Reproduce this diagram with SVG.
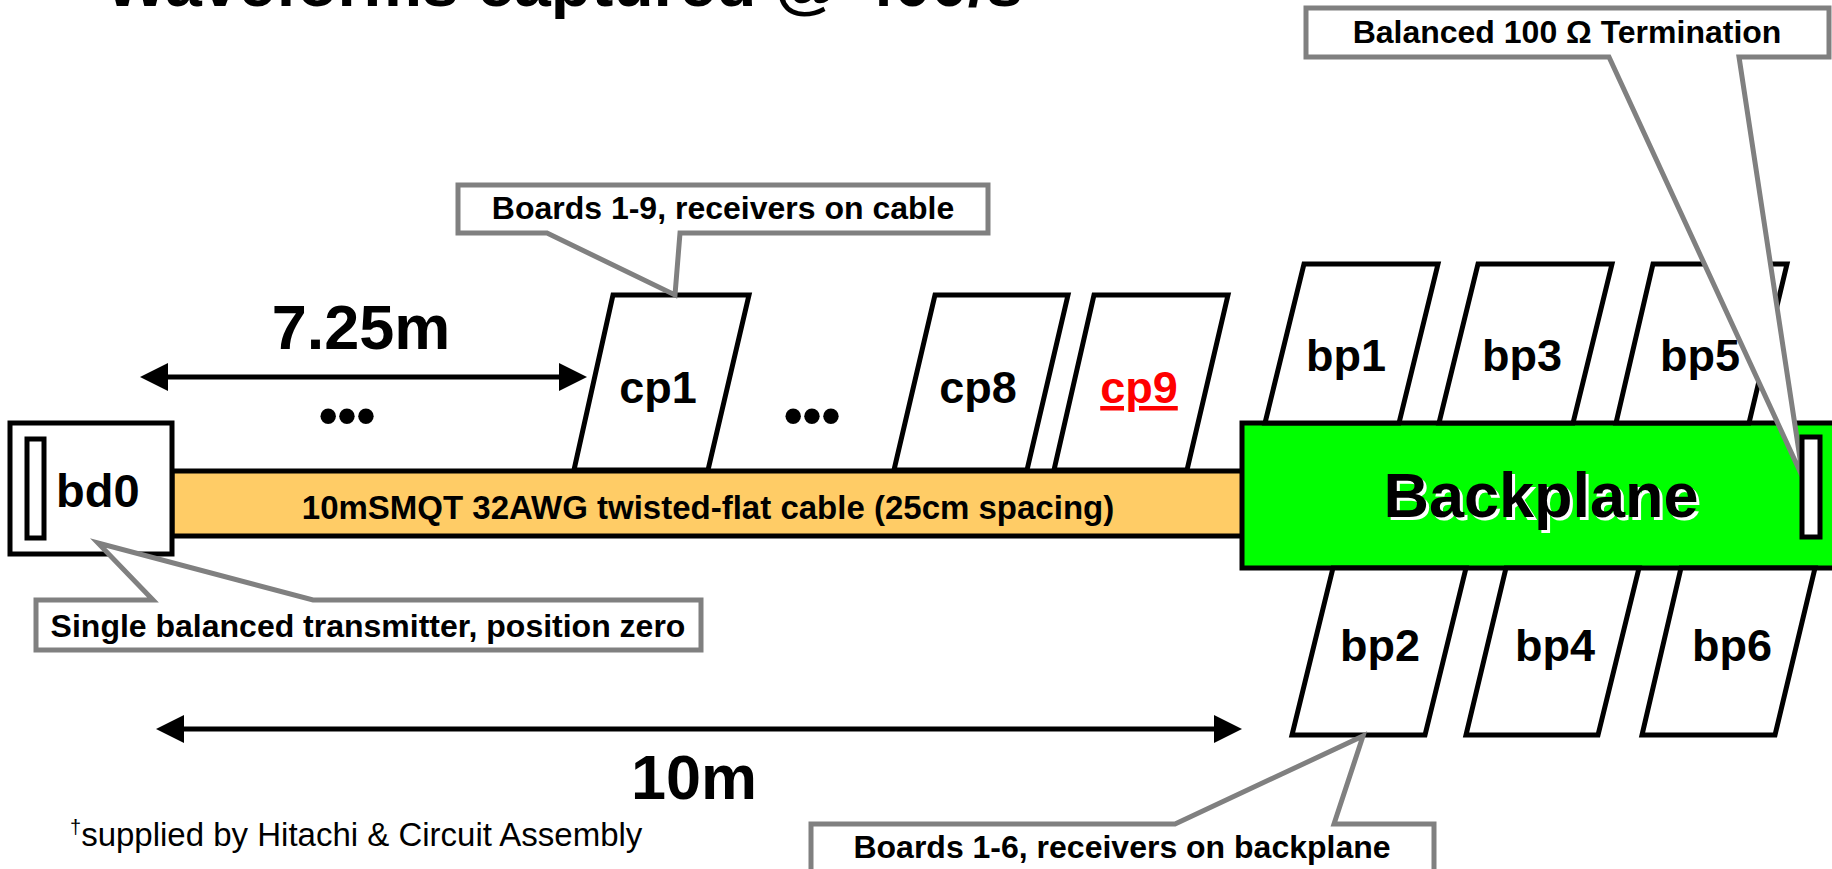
<svg xmlns="http://www.w3.org/2000/svg" width="1832" height="869" viewBox="0 0 1832 869">
<defs>
<style>
.t{font-family:"Liberation Sans",Arial,Helvetica,sans-serif;font-weight:bold;fill:#000}
.board{fill:#fff;stroke:#000;stroke-width:5;stroke-linejoin:miter}
.callout{fill:#fff;stroke:#808080;stroke-width:5;stroke-linejoin:miter}
.dim{stroke:#000;stroke-width:5;fill:none}
.lbl{font-size:45px;text-anchor:middle}
.co{font-size:32px;text-anchor:middle}
</style>
<marker id="ah" markerUnits="userSpaceOnUse" markerWidth="28" markerHeight="28" viewBox="0 0 28 28" refX="18" refY="14" orient="auto-start-reverse"><path d="M0,0 L28,14 L0,28 Z" fill="#000"/></marker>
</defs>
<rect width="1832" height="869" fill="#fff"/>
<text class="t" x="105" y="6" font-size="64" textLength="918" lengthAdjust="spacingAndGlyphs">Waveforms captured @ 400/s</text>

<g id="cable">
<rect x="172" y="471" width="1072" height="65" fill="#FFCC66" stroke="#000" stroke-width="5"/>
<text class="t" x="708" y="519" font-size="33" text-anchor="middle">10mSMQT 32AWG twisted-flat cable (25cm spacing)</text>
</g>

<g id="bd0">
<rect class="board" x="10" y="423" width="162" height="131"/>
<rect class="board" x="27" y="439" width="17" height="99"/>
<text class="t" x="56" y="507" font-size="47">bd0</text>
</g>

<g id="cp1"><polygon class="board" points="613,295 749,295 708,470 574,470"/><text class="t lbl" x="658" y="403">cp1</text></g>
<g id="cp8"><polygon class="board" points="935,295 1068,295 1027,470 894,470"/><text class="t lbl" x="978" y="403">cp8</text></g>
<g id="cp9"><polygon class="board" points="1094,295 1228,295 1187,470 1054,470"/><text class="t lbl" x="1139" y="403" style="fill:#FF0000" text-decoration="underline">cp9</text></g>

<text class="t" x="347" y="434" font-size="54" text-anchor="middle">•••</text>
<text class="t" x="812" y="434" font-size="54" text-anchor="middle">•••</text>

<g id="backplane">
<rect x="1242" y="423" width="600" height="145" fill="#00FF00" stroke="#000" stroke-width="5"/>
<text class="t" x="1544" y="520" font-size="63" text-anchor="middle" style="fill:#fff">Backplane</text>
<text class="t" x="1541" y="517" font-size="63" text-anchor="middle">Backplane</text>
</g>

<g id="bp1"><polygon class="board" points="1304,264 1438,264 1399,423 1265,423"/><text class="t lbl" x="1346" y="371">bp1</text></g>
<g id="bp3"><polygon class="board" points="1478,264 1612,264 1573,423 1439,423"/><text class="t lbl" x="1522" y="371">bp3</text></g>
<g id="bp5"><polygon class="board" points="1653,264 1787,264 1749,423 1616,423"/><text class="t lbl" x="1700" y="371">bp5</text></g>
<g id="bp2"><polygon class="board" points="1333,568 1466,568 1425,735 1292,735"/><text class="t lbl" x="1380" y="661">bp2</text></g>
<g id="bp4"><polygon class="board" points="1506,568 1639,568 1598,735 1466,735"/><text class="t lbl" x="1555" y="661">bp4</text></g>
<g id="bp6"><polygon class="board" points="1681,568 1815,568 1775,735 1642,735"/><text class="t lbl" x="1732" y="661">bp6</text></g>

<g id="connectors">
<line class="dim" x1="150" y1="377" x2="577" y2="377" marker-start="url(#ah)" marker-end="url(#ah)"/>
<line class="dim" x1="166" y1="729" x2="1232" y2="729" marker-start="url(#ah)" marker-end="url(#ah)"/>
</g>
<text class="t" x="361" y="349" font-size="63" text-anchor="middle">7.25m</text>
<text class="t" x="694" y="799" font-size="63" text-anchor="middle">10m</text>

<g id="callout-termination">
<polygon class="callout" points="1306,8 1829,8 1829,57 1739,57 1803,478 1609,57 1306,57"/>
<text class="t co" x="1567" y="43">Balanced 100 Ω Termination</text>
</g>
<g id="terminator"><rect class="board" x="1802" y="437" width="18" height="100"/></g>

<g id="callout-cable">
<polygon class="callout" points="458,185 988,185 988,233 680,233 675,295 547,233 458,233"/>
<text class="t co" x="723" y="219">Boards 1-9, receivers on cable</text>
</g>

<g id="callout-transmitter">
<polygon class="callout" points="36,600 153,600 98,543 313,600 701,600 701,650 36,650"/>
<text class="t co" x="368" y="637">Single balanced transmitter, position zero</text>
</g>

<g id="callout-backplane">
<polygon class="callout" points="811,824 1175,824 1363,736 1334,824 1434,824 1434,885 811,885"/>
<text class="t co" x="1122" y="858">Boards 1-6, receivers on backplane</text>
</g>

<text x="70" y="846" font-family="Liberation Sans, Arial, sans-serif" font-size="33" fill="#000"><tspan font-size="20" dy="-12">†</tspan><tspan dy="12">supplied by Hitachi &amp; Circuit Assembly</tspan></text>
</svg>
